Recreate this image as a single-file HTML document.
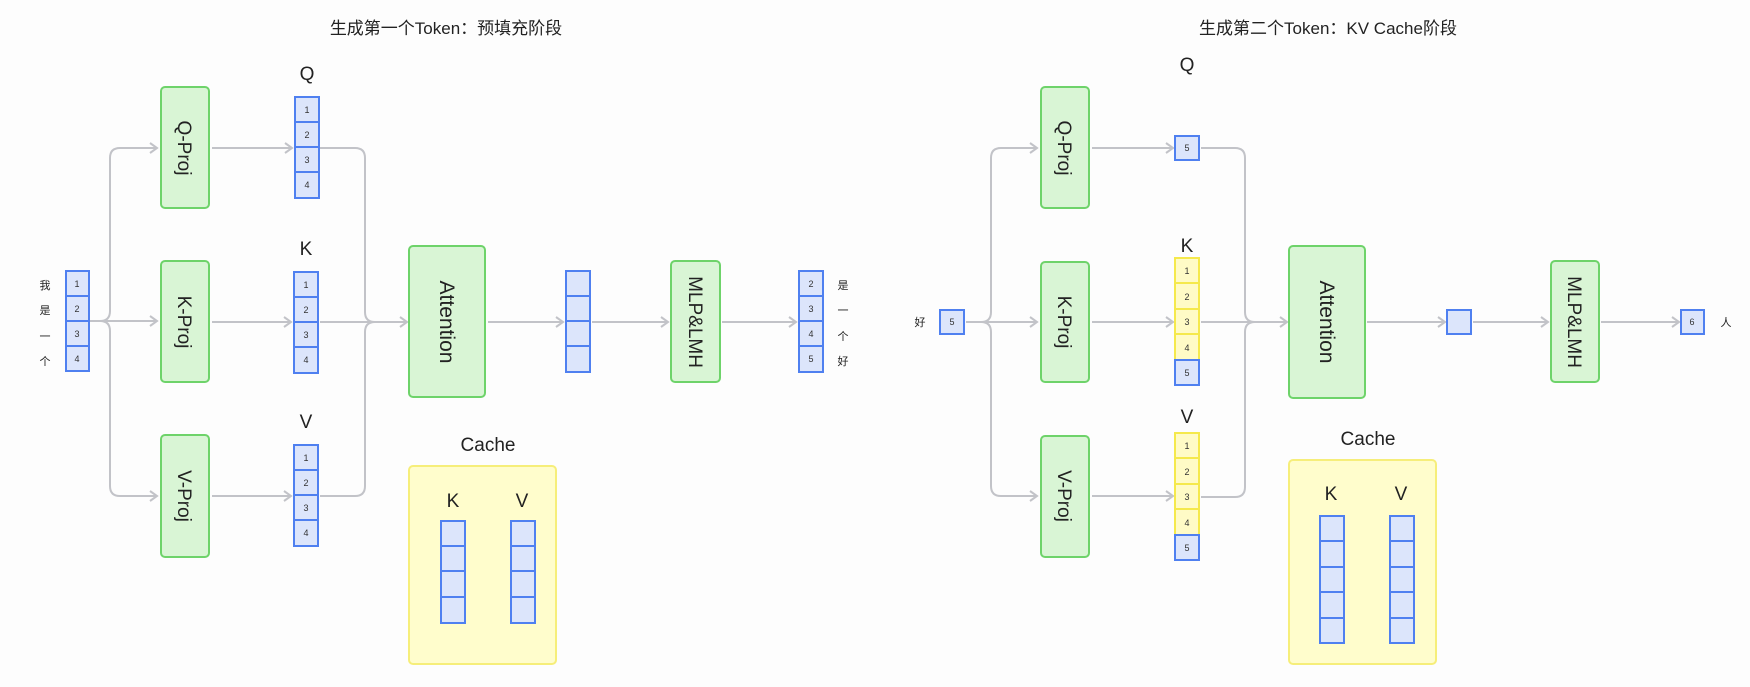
<!DOCTYPE html>
<html><head><meta charset="utf-8"><style>
html,body{margin:0;padding:0;background:#fdfdfd;}
svg{display:block;font-family:"Liberation Sans","Noto Sans CJK SC",sans-serif;}
.ln{stroke:#c2c3c8;stroke-width:2;fill:none;}
.pj{fill:#d9f5d5;stroke:#6ed36a;stroke-width:2;}
.bc{fill:#dce5fb;stroke:#4f80f0;stroke-width:2;}
.yc{fill:#fffbc6;stroke:#f5e94c;stroke-width:2;}
.cb{fill:#fffdcc;stroke:#f6ee7a;stroke-width:2;}
.n{font-size:9px;fill:#333;text-anchor:middle;}
.lb{font-size:19px;fill:#222;text-anchor:middle;}
.rt{font-size:19px;fill:#222;text-anchor:middle;}
.cj{font-size:11px;fill:#222;text-anchor:middle;}
</style></head><body>
<svg width="1750" height="687" viewBox="0 0 1750 687">
<defs><marker id="a" markerWidth="10" markerHeight="12" refX="8" refY="6" orient="auto" markerUnits="userSpaceOnUse"><path d="M1,1 L8,6 L1,11" fill="none" stroke="#c2c3c8" stroke-width="2"/></marker></defs>

<text x="446" y="34" style="font-size:17px" fill="#222" text-anchor="middle">生成第一个Token：预填充阶段</text>
<text x="1328" y="34" style="font-size:17px" fill="#222" text-anchor="middle">生成第二个Token：KV Cache阶段</text>

<!-- LEFT connectors -->
<path class="ln" d="M89,321 H100 Q110,321 110,311 V158 Q110,148 120,148 H157" marker-end="url(#a)"/>
<path class="ln" d="M89,321 H157" marker-end="url(#a)"/>
<path class="ln" d="M89,321 H100 Q110,321 110,331 V486 Q110,496 120,496 H157" marker-end="url(#a)"/>
<path class="ln" d="M212,148 H292" marker-end="url(#a)"/>
<path class="ln" d="M212,322 H291" marker-end="url(#a)"/>
<path class="ln" d="M212,496 H291" marker-end="url(#a)"/>
<path class="ln" d="M320,148 H355 Q365,148 365,158 V312 Q365,322 375,322"/>
<path class="ln" d="M320,496 H355 Q365,496 365,486 V332 Q365,322 375,322"/>
<path class="ln" d="M320,322 H407" marker-end="url(#a)"/>
<path class="ln" d="M488,322 H563" marker-end="url(#a)"/>
<path class="ln" d="M592,322 H668" marker-end="url(#a)"/>
<path class="ln" d="M722,322 H796" marker-end="url(#a)"/>

<!-- input left -->
<g class="cj"><text x="45" y="289">我</text><text x="45" y="314">是</text><text x="45" y="340">一</text><text x="45" y="365">个</text></g>
<rect class="bc" x="66" y="271" width="23" height="25"/><rect class="bc" x="66" y="296" width="23" height="25"/><rect class="bc" x="66" y="321" width="23" height="25"/><rect class="bc" x="66" y="346" width="23" height="25"/>
<g class="n"><text x="77" y="287">1</text><text x="77" y="312">2</text><text x="77" y="337">3</text><text x="77" y="362">4</text></g>

<!-- proj left -->
<rect class="pj" x="161" y="87" width="48" height="121" rx="4"/>
<rect class="pj" x="161" y="261" width="48" height="121" rx="4"/>
<rect class="pj" x="161" y="435" width="48" height="122" rx="4"/>
<text class="rt" transform="translate(178,148) rotate(90)" y="0">Q-Proj</text>
<text class="rt" transform="translate(178,322) rotate(90)">K-Proj</text>
<text class="rt" transform="translate(178,496) rotate(90)">V-Proj</text>

<!-- QKV left -->
<text class="lb" x="307" y="80">Q</text><text class="lb" x="306" y="255">K</text><text class="lb" x="306" y="428">V</text>
<g>
<rect class="bc" x="295" y="97" width="24" height="25"/><rect class="bc" x="295" y="122" width="24" height="25"/><rect class="bc" x="295" y="147" width="24" height="25"/><rect class="bc" x="295" y="172" width="24" height="26"/>
<rect class="bc" x="294" y="272" width="24" height="25"/><rect class="bc" x="294" y="297" width="24" height="25"/><rect class="bc" x="294" y="322" width="24" height="25"/><rect class="bc" x="294" y="347" width="24" height="26"/>
<rect class="bc" x="294" y="445" width="24" height="25"/><rect class="bc" x="294" y="470" width="24" height="25"/><rect class="bc" x="294" y="495" width="24" height="25"/><rect class="bc" x="294" y="520" width="24" height="26"/>
</g>
<g class="n">
<text x="307" y="113">1</text><text x="307" y="138">2</text><text x="307" y="163">3</text><text x="307" y="188">4</text>
<text x="306" y="288">1</text><text x="306" y="313">2</text><text x="306" y="338">3</text><text x="306" y="363">4</text>
<text x="306" y="461">1</text><text x="306" y="486">2</text><text x="306" y="511">3</text><text x="306" y="536">4</text>
</g>

<!-- attention left -->
<rect class="pj" x="409" y="246" width="76" height="151" rx="4"/>
<text class="rt" style="font-size:21px" transform="translate(440,322) rotate(90)">Attention</text>
<rect class="bc" x="566" y="271" width="24" height="25"/><rect class="bc" x="566" y="296" width="24" height="25"/><rect class="bc" x="566" y="321" width="24" height="25"/><rect class="bc" x="566" y="346" width="24" height="26"/>
<rect class="pj" x="671" y="261" width="49" height="121" rx="4"/>
<text class="rt" transform="translate(689,322) rotate(90)">MLP&amp;LMH</text>
<rect class="bc" x="799" y="271" width="24" height="25"/><rect class="bc" x="799" y="296" width="24" height="25"/><rect class="bc" x="799" y="321" width="24" height="25"/><rect class="bc" x="799" y="346" width="24" height="26"/>
<g class="n"><text x="811" y="287">2</text><text x="811" y="312">3</text><text x="811" y="337">4</text><text x="811" y="362">5</text></g>
<g class="cj"><text x="843" y="289">是</text><text x="843" y="314">一</text><text x="843" y="340">个</text><text x="843" y="365">好</text></g>

<!-- cache left -->
<text class="lb" x="488" y="451">Cache</text>
<rect class="cb" x="409" y="466" width="147" height="198" rx="4"/>
<text class="lb" x="453" y="507">K</text><text class="lb" x="522" y="507">V</text>
<rect class="bc" x="441" y="521" width="24" height="25"/><rect class="bc" x="441" y="546" width="24" height="25"/><rect class="bc" x="441" y="571" width="24" height="26"/><rect class="bc" x="441" y="597" width="24" height="26"/>
<rect class="bc" x="511" y="521" width="24" height="25"/><rect class="bc" x="511" y="546" width="24" height="25"/><rect class="bc" x="511" y="571" width="24" height="26"/><rect class="bc" x="511" y="597" width="24" height="26"/>

<!-- RIGHT connectors -->
<path class="ln" d="M966,322 H981 Q991,322 991,312 V158 Q991,148 1001,148 H1037" marker-end="url(#a)"/>
<path class="ln" d="M966,322 H1037" marker-end="url(#a)"/>
<path class="ln" d="M966,322 H981 Q991,322 991,332 V486 Q991,496 1001,496 H1037" marker-end="url(#a)"/>
<path class="ln" d="M1092,148 H1173" marker-end="url(#a)"/>
<path class="ln" d="M1092,322 H1173" marker-end="url(#a)"/>
<path class="ln" d="M1092,496 H1173" marker-end="url(#a)"/>
<path class="ln" d="M1201,148 H1235 Q1245,148 1245,158 V312 Q1245,322 1255,322"/>
<path class="ln" d="M1201,497 H1235 Q1245,497 1245,487 V332 Q1245,322 1255,322"/>
<path class="ln" d="M1201,322 H1287" marker-end="url(#a)"/>
<path class="ln" d="M1367,322 H1445" marker-end="url(#a)"/>
<path class="ln" d="M1473,322 H1548" marker-end="url(#a)"/>
<path class="ln" d="M1601,322 H1679" marker-end="url(#a)"/>

<text class="cj" x="920" y="326">好</text>
<rect class="bc" x="940" y="310" width="24" height="24"/><text class="n" x="952" y="325">5</text>

<rect class="pj" x="1041" y="87" width="48" height="121" rx="4"/>
<rect class="pj" x="1041" y="262" width="48" height="120" rx="4"/>
<rect class="pj" x="1041" y="436" width="48" height="121" rx="4"/>
<text class="rt" transform="translate(1058,148) rotate(90)">Q-Proj</text>
<text class="rt" transform="translate(1058,322) rotate(90)">K-Proj</text>
<text class="rt" transform="translate(1058,496) rotate(90)">V-Proj</text>

<text class="lb" x="1187" y="71">Q</text><text class="lb" x="1187" y="252">K</text><text class="lb" x="1187" y="423">V</text>
<rect class="bc" x="1175" y="136" width="24" height="24"/><text class="n" x="1187" y="151">5</text>
<rect class="yc" x="1175" y="258" width="24" height="25"/><rect class="yc" x="1175" y="283" width="24" height="26"/><rect class="yc" x="1175" y="309" width="24" height="25"/><rect class="yc" x="1175" y="334" width="24" height="26"/><rect class="bc" x="1175" y="360" width="24" height="25"/>
<rect class="yc" x="1175" y="433" width="24" height="25"/><rect class="yc" x="1175" y="458" width="24" height="26"/><rect class="yc" x="1175" y="484" width="24" height="25"/><rect class="yc" x="1175" y="509" width="24" height="26"/><rect class="bc" x="1175" y="535" width="24" height="25"/>
<g class="n">
<text x="1187" y="274">1</text><text x="1187" y="300">2</text><text x="1187" y="325">3</text><text x="1187" y="351">4</text><text x="1187" y="376">5</text>
<text x="1187" y="449">1</text><text x="1187" y="475">2</text><text x="1187" y="500">3</text><text x="1187" y="526">4</text><text x="1187" y="551">5</text>
</g>

<rect class="pj" x="1289" y="246" width="76" height="152" rx="4"/>
<text class="rt" style="font-size:21px" transform="translate(1320,322) rotate(90)">Attention</text>
<rect class="bc" x="1447" y="310" width="24" height="24"/>
<rect class="pj" x="1551" y="261" width="48" height="121" rx="4"/>
<text class="rt" transform="translate(1568,322) rotate(90)">MLP&amp;LMH</text>
<rect class="bc" x="1681" y="310" width="23" height="24"/><text class="n" x="1692" y="325">6</text>
<text class="cj" x="1726" y="326">人</text>

<text class="lb" x="1368" y="445">Cache</text>
<rect class="cb" x="1289" y="460" width="147" height="204" rx="4"/>
<text class="lb" x="1331" y="500">K</text><text class="lb" x="1401" y="500">V</text>
<g>
<rect class="bc" x="1320" y="516" width="24" height="25"/><rect class="bc" x="1320" y="541" width="24" height="26"/><rect class="bc" x="1320" y="567" width="24" height="25"/><rect class="bc" x="1320" y="592" width="24" height="26"/><rect class="bc" x="1320" y="618" width="24" height="25"/>
<rect class="bc" x="1390" y="516" width="24" height="25"/><rect class="bc" x="1390" y="541" width="24" height="26"/><rect class="bc" x="1390" y="567" width="24" height="25"/><rect class="bc" x="1390" y="592" width="24" height="26"/><rect class="bc" x="1390" y="618" width="24" height="25"/>
</g>
</svg>
</body></html>
